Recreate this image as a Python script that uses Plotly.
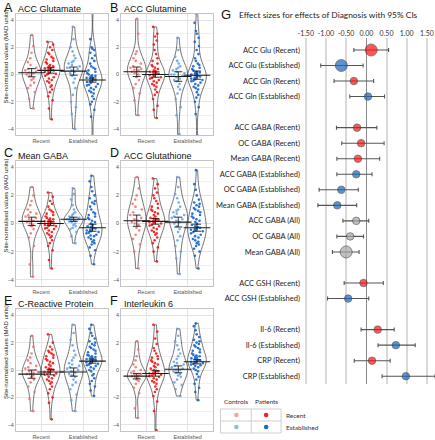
import plotly.graph_objects as go

W, H = 435, 440

# ---------------- violin panel data (site-normalised values, MAD units) ----------------
panel_letters = ["A", "B", "C", "D", "E", "F"]
panel_titles = ["ACC Glutamate", "ACC Glutamine", "Mean GABA", "ACC Glutathione",
                "C-Reactive Protein", "Interleukin 6"]
stage_labels = ["Recent", "Established"]

glu_rc = [-2.5, -1.8, -1.3, -1.0, -0.8, -0.6, -0.4, -0.3, -0.1, 0.0, 0.1, 0.15, 0.2, 0.3, 0.4, 0.5, 0.7, 0.9, 1.2, 1.6, 2.1, 2.9]
glu_rp = [-3.3, -2.5, -1.9, -1.6, -1.3, -1.1, -0.9, -0.8, -0.6, -0.5, -0.4, -0.3, -0.2, -0.1, 0.0, 0.05, 0.1, 0.2, 0.25, 0.3,
          0.3, 0.35, 0.4, 0.45, 0.5, 0.6, 0.6, 0.7, 0.8, 0.9, 1.0, 1.1, 1.2, 1.3, 1.5, 1.6, 1.8, 2.0, 2.2, 2.4]
glu_ec = [-4.0, -2.9, -2.4, -2.0, -1.5, -1.0, -0.6, -0.3, -0.1, 0.1, 0.2, 0.3, 0.4, 0.5, 0.5, 0.6, 0.7, 0.8, 0.9, 1.0, 1.2,
          1.4, 1.7, 2.0, 2.6, 3.5]
glu_ep = [-4.6, -3.1, -2.6, -2.2, -2.0, -1.8, -1.6, -1.4, -1.3, -1.2, -1.1, -1.0, -0.9, -0.8, -0.75, -0.7, -0.6, -0.55, -0.5,
          -0.45, -0.4, -0.35, -0.3, -0.25, -0.2, -0.15, -0.1, -0.05, 0.0, 0.1, 0.2, 0.3, 0.4, 0.5, 0.6, 0.8, 1.0, 1.2, 1.4,
          1.6, 1.8, 1.9, 2.0, 2.6, 4.6]
glu_means = [0.13, 0.30, 0.25, -0.41]
glu_ci = [0.30, 0.20, 0.30, 0.15]

gln_rc = [-3.0, -1.9, -1.4, -1.0, -0.7, -0.4, -0.2, 0.0, 0.1, 0.2, 0.3, 0.35, 0.4, 0.5, 0.6, 0.8, 1.0, 1.2, 1.5, 1.7, 3.0, 4.1]
gln_rp = [-3.2, -2.6, -2.3, -1.8, -1.5, -1.3, -1.1, -0.9, -0.8, -0.7, -0.6, -0.5, -0.4, -0.3, -0.25, -0.2, -0.1, -0.05, 0.0,
          0.0, 0.05, 0.1, 0.15, 0.2, 0.25, 0.3, 0.4, 0.5, 0.6, 0.7, 0.8, 1.0, 1.2, 1.5, 1.8, 2.2, 2.5, 2.8, 3.0, 3.5]
gln_ec = [-4.4, -3.0, -2.4, -1.8, -1.4, -1.1, -0.9, -0.7, -0.5, -0.4, -0.3, -0.2, -0.1, 0.0, 0.0, 0.1, 0.2, 0.3, 0.4, 0.5,
          0.6, 0.8, 1.0, 1.3, 1.8, 2.7]
gln_ep = [-4.5, -2.9, -2.4, -2.0, -1.7, -1.5, -1.3, -1.1, -1.0, -0.9, -0.8, -0.7, -0.6, -0.5, -0.45, -0.4, -0.35, -0.3, -0.25,
          -0.2, -0.15, -0.1, -0.05, 0.0, 0.05, 0.1, 0.15, 0.2, 0.3, 0.4, 0.5, 0.6, 0.7, 0.8, 1.0, 1.2, 1.5, 1.8, 2.1, 2.4,
          2.7, 3.0, 3.2, 3.8, 4.5]
gln_means = [0.20, 0.00, -0.15, -0.05]
gln_ci = [0.35, 0.20, 0.35, 0.30]

gaba_rc = [-3.8, -2.9, -1.6, -1.0, -0.7, -0.4, -0.2, -0.1, 0.0, 0.1, 0.2, 0.3, 0.4, 0.5, 0.6, 0.7, 0.8, 1.0, 1.3, 1.6, 2.0, 2.6]
gaba_rp = [-3.2, -2.6, -1.9, -1.6, -1.4, -1.2, -1.0, -0.9, -0.8, -0.7, -0.6, -0.5, -0.4, -0.35, -0.3, -0.2, -0.15, -0.1, -0.05,
           0.0, 0.0, 0.05, 0.1, 0.15, 0.2, 0.25, 0.3, 0.35, 0.4, 0.5, 0.6, 0.7, 0.8, 0.9, 1.0, 1.2, 1.4, 1.6, 1.9, 2.2]
gaba_ec = [-1.4, -0.9, -0.6, -0.4, -0.3, -0.2, -0.1, 0.0, 0.1, 0.15, 0.2, 0.25, 0.3, 0.3, 0.35, 0.4, 0.45, 0.5, 0.6, 0.7,
           0.8, 1.0, 1.3, 1.7, 2.1, 2.5]
gaba_ep = [-2.9, -2.3, -1.9, -1.7, -1.5, -1.4, -1.3, -1.2, -1.1, -1.0, -0.9, -0.85, -0.8, -0.7, -0.65, -0.6, -0.55, -0.5,
           -0.45, -0.4, -0.35, -0.3, -0.25, -0.2, -0.1, 0.0, 0.1, 0.2, 0.3, 0.4, 0.5, 0.6, 0.7, 0.8, 1.0, 1.2, 1.4, 1.5,
           1.6, 1.8, 2.0, 2.3, 2.6, 3.0, 3.4]
gaba_means = [0.15, 0.00, 0.30, -0.30]
gaba_ci = [0.30, 0.15, 0.15, 0.25]

gsh_rc = [-3.2, -2.0, -1.5, -1.1, -0.8, -0.5, -0.3, -0.1, 0.0, 0.1, 0.2, 0.3, 0.4, 0.6, 0.8, 1.0, 1.2, 1.4, 1.7, 2.0, 2.5, 3.3]
gsh_rp = [-2.7, -2.0, -1.7, -1.4, -1.2, -1.0, -0.8, -0.7, -0.6, -0.5, -0.4, -0.3, -0.2, -0.15, -0.1, 0.0, 0.05, 0.1, 0.15,
          0.2, 0.25, 0.3, 0.35, 0.4, 0.5, 0.6, 0.7, 0.8, 0.9, 1.0, 1.1, 1.2, 1.4, 1.6, 1.8, 2.0, 2.2, 2.5, 2.8, 3.2]
gsh_ec = [-3.6, -2.5, -2.0, -1.6, -1.2, -0.9, -0.6, -0.4, -0.2, 0.0, 0.1, 0.2, 0.3, 0.4, 0.5, 0.6, 0.7, 0.8, 0.9, 1.0, 1.2,
          1.5, 1.8, 2.1, 2.6, 3.3]
gsh_ep = [-3.2, -2.3, -2.0, -1.8, -1.6, -1.5, -1.4, -1.3, -1.2, -1.1, -1.0, -0.9, -0.8, -0.7, -0.6, -0.55, -0.5, -0.45, -0.4,
          -0.35, -0.3, -0.25, -0.2, -0.1, 0.0, 0.1, 0.2, 0.3, 0.4, 0.5, 0.6, 0.7, 0.8, 0.9, 1.0, 1.1, 1.2, 1.3, 1.4, 1.5,
          1.7, 2.0, 2.4, 2.8, 3.8]
gsh_means = [0.20, 0.15, 0.10, -0.30]
gsh_ci = [0.40, 0.20, 0.35, 0.25]

crp_rc = [-3.0, -2.1, -1.6, -1.2, -0.9, -0.7, -0.5, -0.4, -0.3, -0.3, -0.2, -0.1, 0.0, 0.1, 0.2, 0.3, 0.5, 0.7, 0.9, 1.2, 1.7, 2.5]
crp_rp = [-3.6, -2.4, -2.0, -1.7, -1.4, -1.2, -1.0, -0.9, -0.8, -0.7, -0.6, -0.5, -0.4, -0.35, -0.3, -0.25, -0.2, -0.15, -0.1,
          -0.05, 0.0, 0.05, 0.1, 0.2, 0.3, 0.4, 0.5, 0.6, 0.7, 0.8, 0.9, 1.0, 1.1, 1.2, 1.3, 1.4, 1.5, 1.7, 2.0, 2.6]
crp_ec = [-3.0, -2.2, -1.8, -1.4, -1.1, -0.9, -0.7, -0.5, -0.4, -0.3, -0.2, -0.1, 0.0, 0.1, 0.2, 0.3, 0.4, 0.5, 0.7, 0.9, 1.1,
          1.4, 1.8, 2.2, 2.7, 3.3]
crp_ep = [-1.9, -1.5, -1.2, -1.0, -0.8, -0.6, -0.4, -0.3, -0.1, 0.0, 0.1, 0.2, 0.3, 0.35, 0.4, 0.45, 0.5, 0.55, 0.6, 0.65,
          0.7, 0.7, 0.75, 0.8, 0.85, 0.9, 0.95, 1.0, 1.05, 1.1, 1.2, 1.3, 1.4, 1.5, 1.6, 1.7, 1.8, 1.9, 2.0, 2.1, 2.3, 2.5,
          2.7, 3.0, 3.3]
crp_means = [-0.30, -0.15, -0.15, 0.65]
crp_ci = [0.30, 0.20, 0.30, 0.15]

il6_rc = [-3.5, -2.8, -1.7, -1.3, -1.0, -0.8, -0.7, -0.6, -0.5, -0.45, -0.4, -0.35, -0.3, -0.2, -0.1, 0.0, 0.2, 0.4, 0.7, 1.0, 1.5, 2.1]
il6_rp = [-4.4, -3.0, -2.3, -1.9, -1.6, -1.4, -1.2, -1.0, -0.9, -0.8, -0.7, -0.6, -0.5, -0.45, -0.4, -0.35, -0.3, -0.25, -0.2,
          -0.15, -0.1, -0.05, 0.0, 0.1, 0.2, 0.3, 0.4, 0.5, 0.6, 0.7, 0.8, 0.9, 1.0, 1.2, 1.4, 1.6, 1.9, 2.3, 2.8, 3.3]
il6_ec = [-1.9, -1.4, -1.1, -0.9, -0.7, -0.5, -0.4, -0.3, -0.2, -0.1, 0.0, 0.0, 0.1, 0.2, 0.3, 0.4, 0.5, 0.6, 0.8, 1.0, 1.2,
          1.5, 1.8, 2.1, 2.5, 3.0]
il6_ep = [-2.2, -1.6, -1.3, -1.0, -0.7, -0.5, -0.3, -0.1, 0.0, 0.1, 0.2, 0.3, 0.35, 0.4, 0.45, 0.5, 0.55, 0.6, 0.6, 0.65, 0.7,
          0.75, 0.8, 0.85, 0.9, 0.95, 1.0, 1.05, 1.1, 1.2, 1.3, 1.4, 1.5, 1.6, 1.7, 1.8, 1.9, 2.0, 2.1, 2.2, 2.4, 2.6, 2.9,
          3.2, 3.4]
il6_means = [-0.45, -0.25, 0.05, 0.60]
il6_ci = [0.20, 0.20, 0.25, 0.15]

# ---------------- forest plot data (effect size, 95% CI) ----------------
forest_labels = ["ACC Glu (Recent)", "ACC Glu (Established)", "ACC Gln (Recent)", "ACC Gln (Established)",
                 "ACC GABA (Recent)", "OC GABA (Recent)", "Mean GABA (Recent)", "ACC GABA (Established)",
                 "OC GABA (Established)", "Mean GABA (Established)", "ACC GABA (All)", "OC GABA (All)",
                 "Mean GABA (All)", "ACC GSH (Recent)", "ACC GSH (Established)", "Il-6 (Recent)",
                 "Il-6 (Established)", "CRP (Recent)", "CRP (Established)"]
forest_est = [0.12, -0.62, -0.31, 0.04, -0.23, -0.13, -0.21, -0.25, -0.62, -0.72, -0.25, -0.40, -0.50,
              -0.07, -0.45, 0.28, 0.73, 0.14, 0.98]
forest_lo = [-0.31, -1.13, -0.80, -0.41, -0.74, -0.61, -0.73, -0.73, -1.17, -1.20, -0.58, -0.73, -0.84,
             -0.55, -0.96, -0.13, 0.29, -0.30, 0.39]
forest_hi = [0.55, -0.08, 0.18, 0.45, 0.26, 0.44, 0.33, 0.14, -0.20, -0.24, 0.06, -0.07, -0.18,
             0.42, 0.06, 0.69, 1.21, 0.59, 1.70]
forest_group = ["Recent", "Established", "Recent", "Established", "Recent", "Recent", "Recent", "Established",
                "Established", "Established", "All", "All", "All", "Recent", "Established", "Recent",
                "Established", "Recent", "Established"]
forest_primary = [True, True, False, False, False, False, False, False, False, False, False, False, True,
                  False, False, False, False, False, False]
forest_order = ["ACC Glu (Recent)", "ACC Glu (Established)", "ACC Gln (Recent)", "ACC Gln (Established)", " ",
                "ACC GABA (Recent)", "OC GABA (Recent)", "Mean GABA (Recent)", "ACC GABA (Established)",
                "OC GABA (Established)", "Mean GABA (Established)", "ACC GABA (All)", "OC GABA (All)",
                "Mean GABA (All)", "  ", "ACC GSH (Recent)", "ACC GSH (Established)", "   ", "Il-6 (Recent)",
                "Il-6 (Established)", "CRP (Recent)", "CRP (Established)"]
forest_ticks = [-1.5, -1.0, -0.5, 0.0, 0.5, 1.0, 1.5]

# ---------------- assembly ----------------
panels = [
    (glu_rc, glu_rp, glu_ec, glu_ep, glu_means, glu_ci),
    (gln_rc, gln_rp, gln_ec, gln_ep, gln_means, gln_ci),
    (gaba_rc, gaba_rp, gaba_ec, gaba_ep, gaba_means, gaba_ci),
    (gsh_rc, gsh_rp, gsh_ec, gsh_ep, gsh_means, gsh_ci),
    (crp_rc, crp_rp, crp_ec, crp_ep, crp_means, crp_ci),
    (il6_rc, il6_rp, il6_ec, il6_ep, il6_means, il6_ci),
]

pt_colors = ["rgba(240,110,110,0.85)", "rgba(245,20,20,0.9)", "rgba(100,160,225,0.85)", "rgba(20,100,205,0.9)"]
cat_pos = [1, 2]
dodge = [-0.225, 0.225]

col_px = [(13, 106), (119, 211)]
row_px = [(14, 135), (161, 286), (309, 431)]


def px_x(p):
    return p / W


def px_y(p):
    return 1 - p / H


fig = go.Figure()
layout = dict(width=W, height=H, margin=dict(l=0, r=0, t=0, b=0),
              paper_bgcolor="white", plot_bgcolor="white", showlegend=False,
              violinmode="overlay", font=dict(family="Liberation Sans", color="#333"))
annotations = []
shapes = []

for i, (rc, rp, ec, ep, means, ci) in enumerate(panels):
    r, c = divmod(i, 2)
    suf = "" if i == 0 else str(i + 1)
    xa, ya = "x" + suf, "y" + suf
    groups = [rc, rp, ec, ep]
    positions = []
    for j, vals in enumerate(groups):
        xpos = cat_pos[j // 2] + dodge[j % 2]
        positions.append(xpos)
        fig.add_trace(go.Violin(
            x0=xpos, y=vals, width=0.45, spanmode="hard", scalemode="width",
            points="all", pointpos=0, jitter=0.75,
            marker=dict(size=2.6, color=pt_colors[j], line=dict(width=0)),
            line=dict(color="#3a3a3a", width=0.7), fillcolor="rgba(255,255,255,0)",
            xaxis=xa, yaxis=ya, hoverinfo="skip", showlegend=False))
    fig.add_trace(go.Scatter(
        x=positions, y=means, mode="markers", xaxis=xa, yaxis=ya,
        marker=dict(symbol="line-ew", size=19, line=dict(width=1.1, color="#1a1a1a")),
        error_y=dict(type="data", array=ci, thickness=0.9, width=4, color="#1a1a1a"),
        hoverinfo="skip", showlegend=False))
    x0, x1 = col_px[c]
    y0, y1 = row_px[r]
    layout["xaxis" + suf] = dict(domain=[px_x(x0), px_x(x1)], range=[0.4, 2.6], anchor=ya,
                                 tickvals=cat_pos, ticktext=stage_labels, tickangle=0,
                                 tickfont=dict(size=5.5, color="#555"), showgrid=True,
                                 gridcolor="#e3e3e3", gridwidth=0.8, zeroline=False,
                                 showline=True, linecolor="#c4c4c4", linewidth=0.8, mirror=True,
                                 ticks="", fixedrange=True)
    layout["yaxis" + suf] = dict(domain=[px_y(y1), px_y(y0)], range=[-4.45, 4.45], anchor=xa,
                                 tickvals=[-4, -2, 0, 2, 4], tickfont=dict(size=5.5, color="#555"),
                                 showgrid=True, gridcolor="#e3e3e3", gridwidth=0.8, zeroline=False,
                                 minor=dict(dtick=1, tick0=0, showgrid=True, gridcolor="#f1f1f1", gridwidth=0.5),
                                 showline=True, linecolor="#c4c4c4", linewidth=0.8, mirror=True,
                                 ticks="", fixedrange=True)
    # panel letter and title
    annotations.append(dict(text=panel_letters[i], x=px_x(0 if c == 0 else 107), y=px_y(max(y0 - 16, 0)),
                            xref="paper", yref="paper", xanchor="left", yanchor="top", showarrow=False,
                            borderpad=0, font=dict(size=12.5, family="Liberation Sans", color="#111")))
    annotations.append(dict(text=panel_titles[i], x=px_x(x0 + 1.5), y=px_y(max(y0 - 5, 7.5)),
                            xref="paper", yref="paper", xanchor="left", yanchor="middle", showarrow=False,
                            borderpad=0, font=dict(size=9, family="Liberation Sans", color="#111")))
    if c == 0:
        annotations.append(dict(text="Site-normalised values (MAD units)", x=px_x(3),
                                y=px_y((y0 + y1) / 2 - 18), xref="paper", yref="paper",
                                textangle=-90, showarrow=False, xanchor="center", yanchor="middle",
                                font=dict(size=6, family="Liberation Sans", color="#222")))

# forest plot
forest_colors = {"Recent": "#ff1010", "Established": "#1565c0", "All": "#a6a6a6"}
for g in ["Recent", "Established", "All"]:
    idx = [k for k, gg in enumerate(forest_group) if gg == g]
    fig.add_trace(go.Scatter(
        x=[forest_est[k] for k in idx], y=[forest_labels[k] for k in idx], mode="markers",
        xaxis="x7", yaxis="y7",
        marker=dict(color=forest_colors[g], size=[12 if forest_primary[k] else 7.5 for k in idx],
                    line=dict(color="#333", width=0.8)),
        error_x=dict(type="data", symmetric=False,
                     array=[forest_hi[k] - forest_est[k] for k in idx],
                     arrayminus=[forest_est[k] - forest_lo[k] for k in idx],
                     thickness=1.1, width=2, color="#555"),
        hoverinfo="skip", showlegend=False))

layout["xaxis7"] = dict(domain=[px_x(300), 1.0], range=[-1.62, 1.70], anchor="y7", side="top",
                        tickvals=forest_ticks, ticktext=["%.2f" % t for t in forest_ticks], tickangle=0,
                        ticklabeloverflow="allow",
                        tickfont=dict(size=7, family="Lato", color="#333"),
                        showgrid=True, gridcolor="#d9d9d9", gridwidth=1.5,
                        zeroline=True, zerolinecolor="#8c8c8c", zerolinewidth=1.3,
                        showline=False, ticks="", fixedrange=True)
layout["yaxis7"] = dict(domain=[px_y(384), px_y(38)], type="category", categoryorder="array",
                        categoryarray=forest_order, range=[21.5, -0.77], anchor="x7",
                        tickfont=dict(size=7.5, family="Lato", color="#222"),
                        showgrid=False, zeroline=False, showline=False, ticks="", fixedrange=True)

annotations.append(dict(text="G", x=px_x(219), y=px_y(6), xref="paper", yref="paper", xanchor="left",
                        yanchor="top", showarrow=False, borderpad=0,
                        font=dict(size=13, family="Liberation Sans", color="#111")))
annotations.append(dict(text="Effect sizes for effects of Diagnosis with 95% CIs", x=px_x(236), y=px_y(15),
                        xref="paper", yref="paper", xanchor="left", yanchor="middle", showarrow=False,
                        font=dict(size=8.4, family="Lato", color="#222")))

# legend table
legend_cols = ["Controls", "Patients"]
legend_rows = ["Recent", "Established"]
legend_colors = [["#f4a3a3", "#ee2222"], ["#8fbbe8", "#1a6bc9"]]
col_centers = [235, 265]
row_centers = [415, 427]
for k, t in enumerate(legend_cols):
    annotations.append(dict(text=t, x=px_x(col_centers[k]), y=px_y(401), xref="paper", yref="paper",
                            showarrow=False, xanchor="center", yanchor="middle",
                            font=dict(size=6.5, family="Lato", color="#333")))
for k, t in enumerate(legend_rows):
    annotations.append(dict(text=t, x=px_x(283), y=px_y(row_centers[k]), xref="paper", yref="paper",
                            showarrow=False, xanchor="left", yanchor="middle",
                            font=dict(size=6.5, family="Lato", color="#333")))
line_col = "#cfcfcf"
shapes.append(dict(type="rect", xref="paper", yref="paper", x0=px_x(219), x1=px_x(280), y0=px_y(433), y1=px_y(409),
                   line=dict(color=line_col, width=1)))
shapes.append(dict(type="line", xref="paper", yref="paper", x0=px_x(219), x1=px_x(280), y0=px_y(421), y1=px_y(421),
                   line=dict(color=line_col, width=1)))
shapes.append(dict(type="line", xref="paper", yref="paper", x0=px_x(250), x1=px_x(250), y0=px_y(409), y1=px_y(433),
                   line=dict(color=line_col, width=1)))
for rr in range(2):
    for cc in range(2):
        cx, cy = col_centers[cc], row_centers[rr]
        shapes.append(dict(type="circle", xref="paper", yref="paper", x0=px_x(cx - 2.3), x1=px_x(cx + 2.3),
                           y0=px_y(cy + 2.3), y1=px_y(cy - 2.3), fillcolor=legend_colors[rr][cc],
                           line=dict(width=0)))

layout["annotations"] = annotations
layout["shapes"] = shapes
fig.update_layout(**layout)
fig.write_html("out.html", config={"displayModeBar": False},
               post_script="document.body.style.margin='0px';document.body.style.overflow='hidden';")
